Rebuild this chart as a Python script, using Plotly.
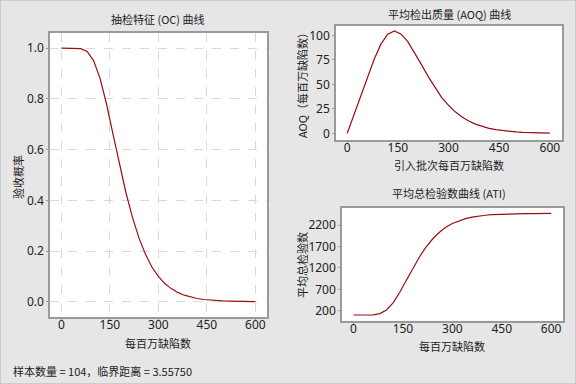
import plotly.graph_objects as go

# ---- data ----
defects_ppm = [0, 20, 40, 60, 80, 100, 120, 140, 160, 180, 200, 220, 240, 260, 280, 300,
               320, 340, 360, 380, 400, 420, 440, 460, 480, 500, 520, 540, 560, 580, 600]
oc_prob = [1.0, 1.0, 1.0, 0.998, 0.987, 0.950, 0.880, 0.779, 0.660, 0.541, 0.429, 0.333,
           0.252, 0.188, 0.137, 0.100, 0.072, 0.052, 0.037, 0.026, 0.018, 0.013, 0.009,
           0.0064, 0.0045, 0.0032, 0.0023, 0.0016, 0.0011, 0.0008, 0.0006]
aoq = [0, 19.2, 38.3, 57.4, 75.6, 91.0, 101.1, 104.5, 101.2, 93.3, 82.2, 70.1, 57.9, 46.7,
       36.6, 28.7, 22.0, 16.8, 12.7, 9.5, 7.0, 5.2, 3.8, 2.8, 2.1, 1.5, 1.1, 0.8, 0.6, 0.4, 0.3]
ati = [104, 104, 104, 108, 136, 222, 388, 627, 908, 1190, 1455, 1683, 1874, 2026, 2147, 2234,
       2300, 2348, 2383, 2408, 2427, 2440, 2448, 2455, 2459, 2462, 2465, 2466, 2467, 2468, 2469]

x_ticks = [0, 150, 300, 450, 600]
oc_ticks = [0.0, 0.2, 0.4, 0.6, 0.8, 1.0]
aoq_ticks = [0, 25, 50, 75, 100]
ati_ticks = [200, 700, 1200, 1700, 2200]

W, H = 576, 384
LINE = "#9a0e12"
AXC = "#9a9a9a"
FONT = "Noto Sans, Noto Sans CJK SC, sans-serif"
CJK = "Noto Sans CJK SC, sans-serif"

def px(x):
    return x / W

def py(y):
    return 1 - y / H

fig = go.Figure()
fig.add_trace(go.Scatter(x=defects_ppm, y=oc_prob, mode="lines",
                         line=dict(color=LINE, width=1.2), xaxis="x", yaxis="y"))
fig.add_trace(go.Scatter(x=defects_ppm, y=aoq, mode="lines",
                         line=dict(color=LINE, width=1.2), xaxis="x2", yaxis="y2"))
fig.add_trace(go.Scatter(x=defects_ppm, y=ati, mode="lines",
                         line=dict(color=LINE, width=1.2), xaxis="x3", yaxis="y3"))

def axis(domain, rng, ticks, anchor, horiz, grid=False, fmt=None):
    d = dict(domain=domain, range=rng, tickvals=ticks, anchor=anchor,
             showline=True, linecolor=AXC, linewidth=1.5, mirror=True,
             ticks="outside", ticklen=2, tickcolor=AXC, tickwidth=1,
             tickfont=dict(family=FONT, size=12, color="#222222"),
             zeroline=False, showgrid=grid, fixedrange=True)
    if horiz:
        d["ticklabelstandoff"] = -6
    if grid:
        d.update(gridcolor="#d9d9d9", griddash="dash", gridwidth=1)
    if fmt:
        d["tickformat"] = fmt
    return d

fig.update_layout(
    width=W, height=H,
    margin=dict(l=0, r=0, t=0, b=0),
    paper_bgcolor="#e6e6e6",
    plot_bgcolor="#ffffff",
    showlegend=False,
    xaxis=axis([px(50), px(267)], [-35, 636], x_ticks, "y", True, grid=True),
    yaxis=axis([py(317), py(33)], [-0.06, 1.06], oc_ticks, "x", False, grid=True, fmt=".1f"),
    xaxis2=axis([px(336), px(562)], [-33, 636], x_ticks, "y2", True),
    yaxis2=axis([py(140.3), py(26)], [-7, 109.5], aoq_ticks, "x2", False),
    xaxis3=axis([px(342), px(563)], [-35, 636], x_ticks, "y3", True),
    yaxis3=axis([py(320.7), py(207.7)], [-29, 2603], ati_ticks, "x3", False),
)

def label(text, x, y, angle=0, size=11, xanchor="center"):
    fig.add_annotation(text=text, x=px(x), y=py(y), xref="paper", yref="paper",
                       showarrow=False, textangle=angle, xanchor=xanchor, yanchor="middle",
                       font=dict(family=CJK, size=size, color="#222222"))

label("抽检特征 (OC) 曲线", 158, 19)
label("验收概率", 18, 177, angle=-90)
label("每百万缺陷数", 158, 343)

label("平均检出质量 (AOQ) 曲线", 449, 14)
label("AOQ（每百万缺陷数）", 302, 83, angle=-90)
label("引入批次每百万缺陷数", 449, 165)

label("平均总检验数曲线 (ATI)", 449, 193)
label("平均总检验数", 302, 265, angle=-90)
label("每百万缺陷数", 452, 346)

label("样本数量 = 104，临界距离 = 3.55750", 11, 371, xanchor="left")

fig.add_shape(type="rect", xref="paper", yref="paper", x0=0, y0=0, x1=1, y1=1,
              line=dict(color="#c4c4c4", width=1.5), fillcolor="rgba(0,0,0,0)", layer="above")

fig.write_html("out.html", config={"displayModeBar": False},
               post_script="document.body.style.margin='0';document.body.style.background='#e6e6e6';")
